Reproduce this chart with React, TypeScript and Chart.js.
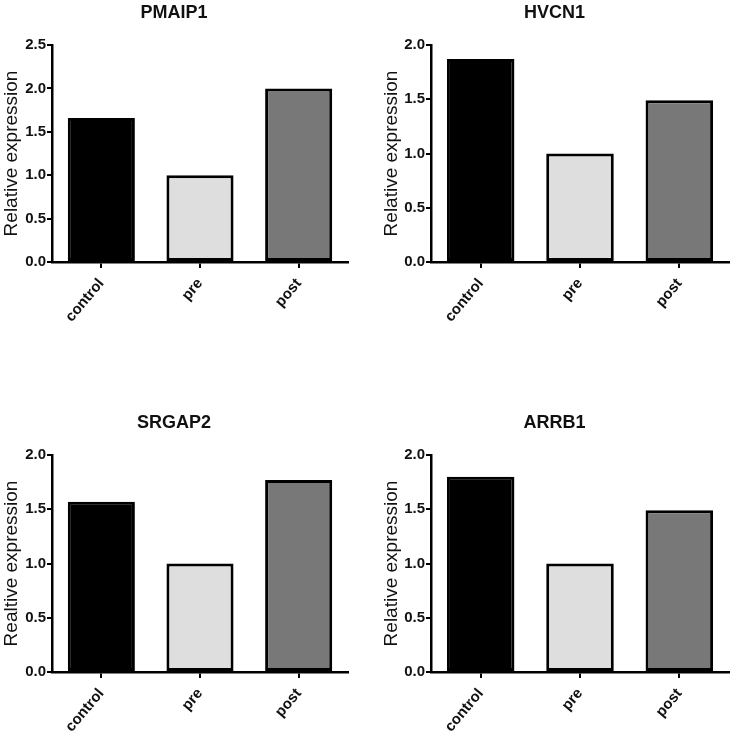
import React, { useEffect, useRef } from "react";
import { Chart, registerables } from "chart.js";

Chart.register(...registerables);

const categories = ["control", "pre", "post"];
const pmaip1Values = [1.66, 1.0, 2.0];
const hvcn1Values = [1.87, 1.0, 1.49];
const srgap2Values = [1.57, 1.0, 1.77];
const arrb1Values = [1.8, 1.0, 1.49];
const barColors = ["#000000", "#dedede", "#787878"];

const FONT = "'Liberation Sans', Arial, Helvetica, sans-serif";

type PanelProps = {
  title: string;
  yTitle: string;
  values: number[];
  yMax: number;
  left: number;
  top: number;
  width: number;
  height: number;
  yAxisWidth: number;
  rightPad: number;
};

function Panel(p: PanelProps) {
  const ref = useRef<HTMLCanvasElement | null>(null);
  useEffect(() => {
    if (!ref.current) return;
    const chart = new Chart(ref.current, {
      type: "bar",
      data: {
        labels: categories,
        datasets: [
          {
            data: p.values,
            backgroundColor: barColors,
            borderColor: "#000000",
            borderWidth: 3,
            borderSkipped: false,
            barPercentage: 0.68,
            categoryPercentage: 1,
          },
        ],
      },
      options: {
        responsive: false,
        animation: false,
        devicePixelRatio: 1,
        layout: { padding: { left: 0, right: p.rightPad, top: 0, bottom: 0 } },
        plugins: {
          legend: { display: false },
          tooltip: { enabled: false },
          title: {
            display: true,
            text: p.title,
            color: "#111111",
            font: { family: FONT, size: 18, weight: "bold" },
            padding: { top: 2, bottom: 21.4 },
          },
        },
        scales: {
          x: {
            offset: true,
            grid: {
              display: true,
              drawOnChartArea: false,
              drawTicks: true,
              tickLength: 6,
              offset: false,
              color: "#000000",
              lineWidth: 2,
            },
            border: { display: true, color: "#000000", width: 2.5 },
            ticks: {
              color: "#111111",
              font: { family: FONT, size: 15, weight: "bold" },
              minRotation: 50,
              maxRotation: 50,
              padding: 7,
            },
            afterFit: (scale: any) => {
              scale.height = p.height - 262;
            },
          },
          y: {
            min: 0,
            max: p.yMax,
            grid: {
              display: true,
              drawOnChartArea: false,
              drawTicks: true,
              tickLength: 5,
              color: "#000000",
              lineWidth: 2,
            },
            border: { display: true, color: "#000000", width: 2.5 },
            ticks: {
              stepSize: 0.5,
              color: "#111111",
              padding: 1,
              font: { family: FONT, size: 15, weight: "bold" },
              callback: (v: any) => Number(v).toFixed(1),
            },
            title: {
              display: true,
              text: p.yTitle,
              color: "#111111",
              font: { family: FONT, size: 19, weight: "normal" },
              padding: { top: 0, bottom: 0 },
            },
            afterFit: (scale: any) => {
              scale.width = p.yAxisWidth;
            },
          },
        },
      },
    });
    return () => chart.destroy();
  }, []);
  return (
    <canvas
      ref={ref}
      width={p.width}
      height={p.height}
      style={{
        position: "absolute",
        left: p.left,
        top: p.top,
        width: p.width,
        height: p.height,
      }}
    />
  );
}

export default function App() {
  return (
    <div
      style={{
        position: "absolute",
        left: 0,
        top: 0,
        width: 734,
        height: 736,
        background: "#ffffff",
      }}
    >
      <Panel
        title="PMAIP1"
        yTitle="Relative expression"
        values={pmaip1Values}
        yMax={2.5}
        left={0}
        top={0}
        width={367}
        height={340}
        yAxisWidth={52}
        rightPad={19}
      />
      <Panel
        title="HVCN1"
        yTitle="Relative expression"
        values={hvcn1Values}
        yMax={2.0}
        left={380}
        top={0}
        width={354}
        height={340}
        yAxisWidth={51}
        rightPad={5}
      />
      <Panel
        title="SRGAP2"
        yTitle="Realtive expression"
        values={srgap2Values}
        yMax={2.0}
        left={0}
        top={410}
        width={367}
        height={326}
        yAxisWidth={52}
        rightPad={19}
      />
      <Panel
        title="ARRB1"
        yTitle="Relative expression"
        values={arrb1Values}
        yMax={2.0}
        left={380}
        top={410}
        width={354}
        height={326}
        yAxisWidth={51}
        rightPad={5}
      />
    </div>
  );
}
